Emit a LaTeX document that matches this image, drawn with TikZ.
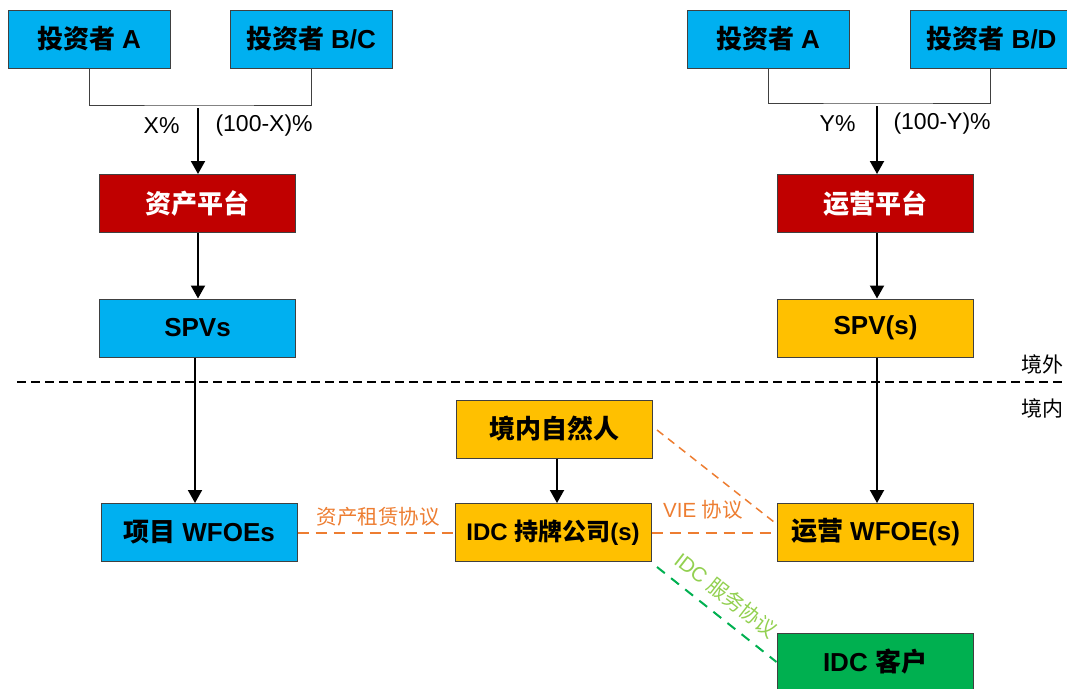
\documentclass[tikz,border=0pt]{standalone}
\usepackage{fontspec}
\setmainfont{Liberation Sans}
\newfontfamily\cjk{Noto Sans CJK SC}
\usetikzlibrary{arrows.meta}
\definecolor{cblue}{HTML}{00B0F0}
\definecolor{cred}{HTML}{C00000}
\definecolor{cyel}{HTML}{FFC000}
\definecolor{cgreen}{HTML}{00B050}
\definecolor{corange}{HTML}{ED7D31}
\definecolor{clgreen}{HTML}{92D050}
\definecolor{cgray}{HTML}{404040}
\tikzset{
  box/.style={draw=cgray, line width=1pt, minimum width=196pt, minimum height=58pt, inner sep=0pt, font=\fontsize{26}{30}\selectfont\bfseries},
  inv/.style={box, fill=cblue, minimum width=162pt},
  arr/.style={line width=2pt, -{Triangle[length=13pt,width=14pt]}},
  tree/.style={line width=1pt, draw=cgray},
  pct/.style={font=\fontsize{23}{26}\selectfont},
  agree/.style={line width=2pt, dash pattern=on 11pt off 7pt},
  lbl/.style={font=\fontsize{20.5}{24}\selectfont, text=corange},
  zone/.style={font=\fontsize{21}{24}\selectfont},
}
\begin{document}
\begin{tikzpicture}[x=1pt,y=-1pt]
\useasboundingbox (0,0) rectangle (1067,688);
% left column
\node[inv] (ia) at (89,39) {{\cjk 投资者} A};
\node[inv] (ib) at (311,39) {{\cjk 投资者} B/C};
\node[box, fill=cred, text=white] (ap) at (197.5,203.5) {\cjk 资产平台};
\node[box, fill=cblue] (spvs) at (197.5,328) {SPVs};
\node[box, fill=cblue] (xw) at (199,532.5) {{\cjk 项目} WFOEs};
% middle
\node[box, fill=cyel] (ren) at (554.5,429) {\cjk 境内自然人};
\node[box, fill=cyel, font=\fontsize{24}{28}\selectfont\bfseries] (idc) at (553,532.5) {IDC {\cjk 持牌公司}(s)};
% right column
\node[inv] (ra) at (768,39) {{\cjk 投资者} A};
\node[inv, anchor=west] (rb) at (910,39) {{\cjk 投资者} B/D};
\node[box, fill=cred, text=white] (yp) at (875.5,203.5) {\cjk 运营平台};
\node[box, fill=cyel] (spv) at (875.5,328) {SPV(s)};
\node[box, fill=cyel] (yw) at (875.5,532.5) {{\cjk 运营} WFOE(s)};
\node[box, fill=cgreen] (kh) at (875,662) {IDC {\cjk 客户}};
% ownership trees
\coordinate (j1) at (198,105);
\coordinate (j1b) at (198,108);
\draw[tree] (ia.south) |- (j1) -| (ib.south);
\draw[arr] (j1b) -- (ap.north -| j1b);
\node[pct, anchor=east] (xp) at (183,126) {X\%};
\node[pct, anchor=west] (xq) at (212,126) {(100-X)\%};
\coordinate (j2) at (877,103);
\coordinate (j2b) at (877,106);
\draw[tree] (ra.south) |- (j2) -| (990,68);
\draw[arr] (j2b) -- (yp.north -| j2b);
\node[pct, anchor=east] (yq) at (859,124) {Y\%};
\node[pct, anchor=west] (yr) at (890,124) {(100-Y)\%};
% vertical arrows
\draw[arr] (ap.south -| 198,0) -- (spvs.north -| 198,0);
\draw[arr] (spvs.south -| 195,0) -- (xw.north -| 195,0);
\draw[arr] (yp.south -| 877,0) -- (spv.north -| 877,0);
\draw[arr] (spv.south -| 877,0) -- (yw.north -| 877,0);
\draw[arr] (ren.south -| 557,0) -- (idc.north -| 557,0);
% border
\coordinate (b1) at (17,382);
\coordinate (b2) at (1067,382);
\draw[line width=2pt, dash pattern=on 9pt off 5pt] (b1) -- (b2);
\node[zone, anchor=east] (jw) at (1067,364) {\cjk 境外};
\node[zone, anchor=east] (jn) at (1067,408) {\cjk 境内};
% agreements
\draw[agree, draw=corange] (xw.east) -- (idc.west);
\node[lbl] (l1) at (378,517) {\cjk 资产租赁协议};
\draw[agree, draw=corange] (idc.east) -- (yw.west);
\node[lbl] (l2) at (703,510) {VIE {\cjk 协议}};
\coordinate (d1) at (657,430);
\coordinate (d2) at (774,522);
\draw[line width=1.5pt, dash pattern=on 8pt off 6pt, draw=corange] (d1) -- (d2);
\coordinate (g1) at (657,567);
\draw[agree, draw=cgreen, dash pattern=on 10pt off 8pt] (g1) -- (kh.west);
\node[lbl, text=clgreen, rotate=-38] (l3) at (726,595) {IDC {\cjk 服务协议}};
\end{tikzpicture}
\end{document}
